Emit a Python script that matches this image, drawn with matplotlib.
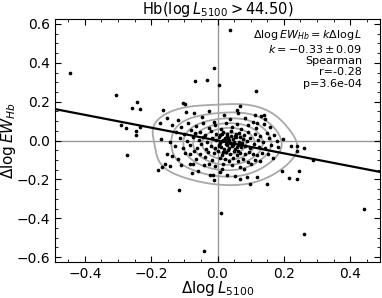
import numpy as np
import matplotlib
matplotlib.use("Agg")
import matplotlib.pyplot as plt
from matplotlib.ticker import AutoMinorLocator

# outlying points
x_out = [-0.444, 0.039, -0.011, -0.069, -0.031, 0.004, 0.115, -0.307, -0.258, -0.242,
         -0.235, -0.290, -0.275, -0.245, -0.245, -0.235, -0.165, -0.172, -0.105, -0.097,
         0.113, 0.141, 0.059, 0.069, 0.118, 0.221, 0.241, 0.260,
         -0.273, -0.180, -0.167, -0.157, -0.153, -0.138, -0.142, -0.120, -0.110, -0.117,
         -0.083, -0.075, -0.076, -0.083, -0.058, -0.023, -0.013, -0.011, -0.026, 0.009,
         -0.041, 0.007, 0.029, 0.054, 0.069, 0.089, 0.099, 0.118, 0.148, 0.193, 0.215,
         0.240, 0.245, 0.260, 0.288, 0.440, 0.168, 0.241]
y_out = [0.348, 0.570, 0.374, 0.307, 0.312, 0.285, 0.256, 0.235, 0.168, 0.196,
         0.163, 0.079, 0.065, 0.048, 0.029, 0.070, 0.156, 0.088, 0.194, 0.189,
         0.130, 0.130, 0.156, 0.178, 0.088, -0.026, -0.028, -0.041,
         -0.076, -0.153, -0.136, -0.119, -0.071, -0.079, -0.131, -0.096, -0.127, -0.256,
         -0.122, -0.122, -0.167, -0.071, -0.157, -0.175, -0.175, -0.205, -0.122, -0.373,
         -0.571, -0.162, -0.175, -0.184, -0.196, -0.188, -0.225, -0.188, -0.225, -0.157, -0.191,
         -0.196, -0.157, -0.483, -0.102, -0.350, -0.088, -0.054]

# dense core points (estimated)
x_core = [-0.152, -0.118, -0.095, -0.071, -0.048, -0.026, -0.012, 0.018, 0.037, 0.062, 0.084, 0.108, 0.131, 0.142,
          -0.137, -0.109, -0.088, -0.064, -0.043, -0.027, -0.008, 0.009, 0.026, 0.044, 0.058, 0.071, 0.093, 0.117, 0.139, 0.158,
          -0.126, -0.102, -0.081, -0.067, -0.052, -0.038, -0.021, -0.006, 0.006, 0.015, 0.029, 0.041, 0.052, 0.066, 0.079, 0.091, 0.112, 0.128, 0.149, 0.171,
          -0.171, -0.143, -0.114, -0.091, -0.074, -0.057, -0.044, -0.031, -0.017, -0.004, 0.004, 0.012, 0.021, 0.033, 0.039, 0.048, 0.057, 0.064, 0.076, 0.088, 0.099, 0.121, 0.138, 0.156, 0.178, 0.196,
          -0.128, -0.104, -0.083, -0.062, -0.049, -0.035, -0.019, -0.009, 0.003, 0.011, 0.019, 0.027, 0.036, 0.045, 0.053, 0.061, 0.072, 0.084, 0.097, 0.109, 0.124, 0.143, 0.161, 0.183,
          -0.097, -0.071, -0.053, -0.028, -0.011, 0.002, 0.014, 0.024, 0.038, 0.049, 0.059, 0.069, 0.082, 0.094, 0.106, 0.119, 0.134, 0.152,
          -0.064, -0.038, -0.016, 0.006, 0.021, 0.034, 0.047, 0.062, 0.077, 0.091, 0.113, 0.128,
          -0.042, -0.007, 0.016, 0.043, 0.068, 0.102, 0.013, 0.081,
          0.008, 0.017, 0.025, 0.031, 0.043, 0.051, 0.029, 0.058, 0.015, 0.035,
          0.022, 0.046, 0.067, 0.004, 0.033, 0.056, 0.074, 0.012, 0.041, 0.063]
y_core = [0.118, 0.104, 0.148, 0.139, 0.121, 0.152, 0.097, 0.131, 0.109, 0.142, 0.118, 0.097, 0.128, 0.112,
          0.082, 0.068, 0.091, 0.076, 0.088, 0.064, 0.082, 0.058, 0.091, 0.072, 0.085, 0.061, 0.079, 0.066, 0.083, 0.071,
          0.043, 0.031, 0.052, 0.037, 0.046, 0.029, 0.048, 0.036, 0.027, 0.044, 0.033, 0.051, 0.024, 0.039, 0.028, 0.046, 0.034, 0.022, 0.041, 0.029,
          0.008, -0.006, 0.012, -0.003, 0.017, 0.004, 0.019, -0.008, 0.011, 0.002, 0.018, -0.004, 0.009, 0.014, -0.011, 0.006, 0.016, -0.007, 0.008, -0.002, 0.013, 0.004, -0.009, 0.011, -0.004, 0.006,
          -0.028, -0.041, -0.022, -0.036, -0.019, -0.044, -0.027, -0.039, -0.021, -0.033, -0.046, -0.024, -0.037, -0.029, -0.043, -0.021, -0.034, -0.026, -0.041, -0.018, -0.031, -0.038, -0.024, -0.033,
          -0.062, -0.054, -0.071, -0.058, -0.066, -0.052, -0.074, -0.061, -0.068, -0.055, -0.077, -0.063, -0.071, -0.058, -0.069, -0.076, -0.062, -0.071,
          -0.093, -0.087, -0.101, -0.089, -0.097, -0.108, -0.091, -0.104, -0.094, -0.109, -0.098, -0.106,
          -0.124, -0.131, -0.119, -0.127, -0.138, -0.121, -0.146, -0.149,
          -0.012, 0.003, -0.016, -0.003, -0.019, -0.006, 0.024, -0.031, -0.058, 0.003,
          0.011, -0.024, 0.019, -0.027, -0.048, 0.031, -0.013, 0.036, 0.021, -0.052]

slope_k = -0.33
intercept_b = 0.0
xlim = (-0.49, 0.49)
ylim = (-0.625, 0.625)

x = np.array(x_out + x_core)
y = np.array(y_out + y_core)

fig = plt.figure(figsize=(3.82, 2.98), dpi=100)
ax = fig.add_axes([0.144, 0.121, 0.851, 0.815])

# KDE contours
n = len(x)
sx, sy = x.std(), y.std()
fac = 1.3 * n ** (-1.0 / 6)
hx, hy = sx * fac, sy * fac
gx = np.linspace(-0.45, 0.45, 240)
gy = np.linspace(-0.5, 0.5, 240)
GX, GY = np.meshgrid(gx, gy)
Z = np.zeros_like(GX)
for xi, yi in zip(x, y):
    Z += np.exp(-0.5 * (((GX - xi) / hx) ** 2 + ((GY - yi) / hy) ** 2))
Z /= Z.max()
ax.contour(GX, GY, Z, levels=[0.16, 0.30, 0.44, 0.58, 0.72, 0.86],
           colors='#a8a8a8', linewidths=1.3, zorder=1)

ax.axhline(0, color='#999999', lw=1, zorder=0)
ax.axvline(0, color='#999999', lw=1, zorder=0)

ax.scatter(x, y, s=7, color='black', zorder=3, linewidths=0)

lx = np.array(xlim)
ax.plot(lx, slope_k * lx + intercept_b, color='black', lw=1.6, zorder=4)

ax.set_xlim(*xlim)
ax.set_ylim(*ylim)
ax.set_xticks([-0.4, -0.2, 0.0, 0.2, 0.4])
ax.set_yticks([-0.6, -0.4, -0.2, 0.0, 0.2, 0.4, 0.6])
ax.xaxis.set_minor_locator(AutoMinorLocator(4))
ax.yaxis.set_minor_locator(AutoMinorLocator(4))
ax.tick_params(which='both', direction='in', top=True, right=True, labelsize=10)
ax.tick_params(which='major', length=4)
ax.tick_params(which='minor', length=2)

ax.set_title(r'Hb($\log L_{5100}>44.50$)', fontsize=10.5, pad=4)
ax.set_xlabel(r'$\Delta\log L_{5100}$', fontsize=11, labelpad=-1)
ax.set_ylabel(r'$\Delta\log EW_{Hb}$', fontsize=11, labelpad=-1)

txt = '\n'.join([r'$\Delta\log EW_{Hb}=k\Delta\log L$',
                 r'$k=-0.33\pm0.09$',
                 'Spearman', 'r=-0.28', 'p=3.6e-04'])
ax.text(0.945, 0.965, txt, transform=ax.transAxes, ha='right', va='top',
        fontsize=8, linespacing=1.15)

fig.savefig('out.png', dpi=100)
